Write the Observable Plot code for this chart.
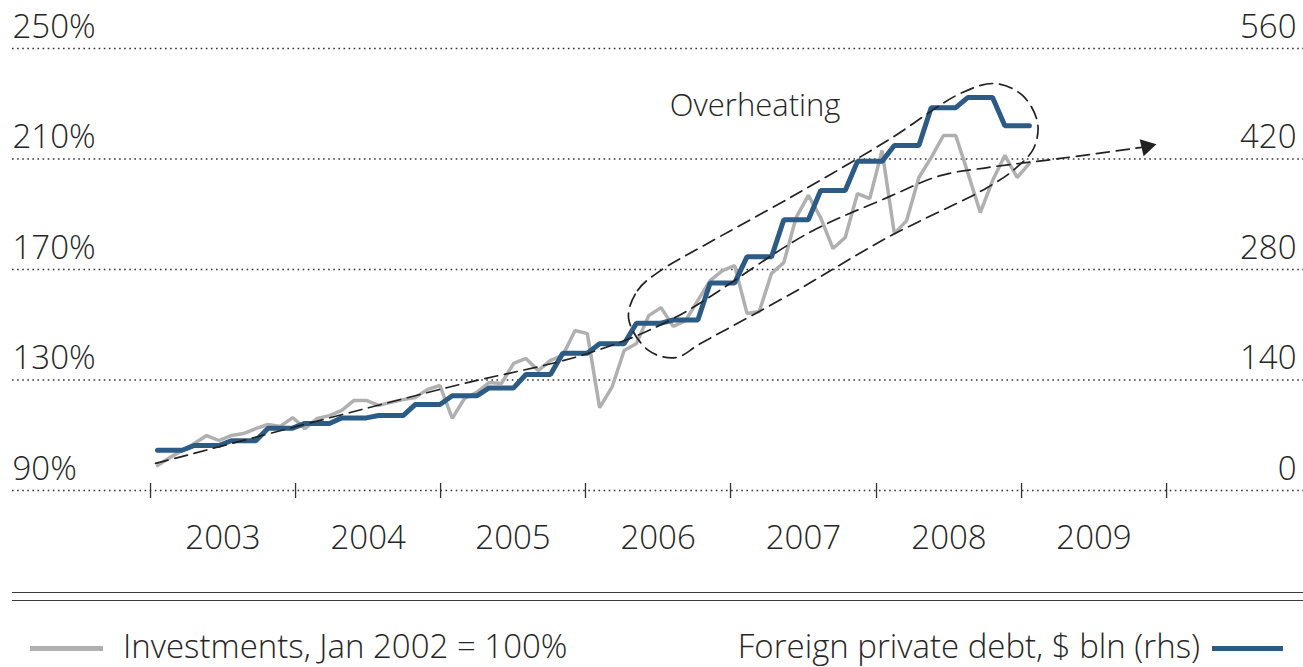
<!DOCTYPE html>
<html><head><meta charset="utf-8">
<script src="https://cdn.jsdelivr.net/npm/d3@7"></script>
<script src="https://cdn.jsdelivr.net/npm/@observablehq/plot@0.6"></script>
<style>
body{margin:0;background:#fff;font-family:"Open Sans",sans-serif;color:#262626;}
#wrap{position:relative;width:1303px;height:667px;overflow:hidden;}
#chart svg{display:block;overflow:visible;}
.dbl{position:absolute;left:12px;right:0;top:592px;height:7px;border-top:1.5px solid #3a3a3a;border-bottom:1.5px solid #3a3a3a;}
.leg{position:absolute;top:626px;font-size:33px;font-weight:300;line-height:40px;white-space:nowrap;color:#262626;}
.sw{position:absolute;height:5px;}
</style></head>
<body>
<div id="wrap">
  <div id="chart"></div>
  <div class="dbl"></div>
  <div class="sw" style="left:30px;width:73px;top:646px;background:#b0b0b0"></div>
  <div class="leg" style="left:123px">Investments, Jan 2002 = 100%</div>
  <div class="leg" style="right:103px">Foreign private debt, $ bln (rhs)</div>
  <div class="sw" style="left:1212px;width:71px;top:646px;background:#2c5b85"></div>
</div>
<script>
// Monthly observations, Jan 2003 .. Dec 2008 (index 0 = Jan 2003)
const months = d3.utcMonths(new Date(Date.UTC(2003, 0, 1)), new Date(Date.UTC(2009, 0, 1)));

// Investments, Jan 2002 = 100% (left axis)
const investments = [
  99.0, 101.9, 104.5, 107.0, 109.9, 108.1, 109.9, 110.6, 112.4, 113.9, 113.2, 116.4,
  112.4, 116.1, 117.1, 119.0, 122.6, 122.6, 120.8, 121.9, 122.9, 123.7, 126.6, 128.0,
  116.1, 123.3, 125.5, 129.1, 128.7, 136.0, 137.8, 133.4, 137.1, 138.9, 147.9, 146.8,
  120.0, 127.3, 140.7, 143.2, 153.3, 156.2, 149.4, 151.5, 158.8, 166.0, 169.6, 171.4,
  154.1, 154.8, 168.6, 172.5, 188.8, 196.8, 188.8, 177.6, 181.6, 197.5, 195.7, 213.1,
  183.0, 187.7, 203.3, 210.5, 218.5, 218.5, 204.8, 190.6, 202.2, 211.3, 203.3, 208.4
];

// Foreign private debt, $ bln (right axis) - quarterly levels shown monthly
const debt = [
  51, 51, 51, 57, 57, 57, 63, 63, 63, 79, 79, 79,
  85, 85, 85, 92, 92, 92, 95, 95, 95, 109, 109, 109,
  120, 120, 120, 130, 130, 130, 147, 147, 147, 174, 174, 174,
  186, 186, 186, 212, 212, 212, 216, 216, 216, 263, 263, 263,
  296, 296, 296, 343, 343, 343, 380, 380, 380, 417, 417, 417,
  437, 437, 437, 485, 485, 485, 498, 498, 498, 462, 462, 462
];

// Axis ticks
const leftTicks = [90, 130, 170, 210, 250];
const rhsTicks = [0, 140, 280, 420, 560];
const rhsPerPct = 3.5; // 560 bln spans 160 percentage points
const yearLabels = ["2003", "2004", "2005", "2006", "2007", "2008", "2009"];
// year boundary ticks and label centres as drawn (in month-index units)
const yearTicks = [-0.57, 11.24, 23.05, 34.85, 46.66, 58.55, 70.36, 82.17];
const yearMid = [5.33, 17.15, 28.95, 40.76, 52.6, 64.45, 76.26];

// Annotations (month index, % on left axis)
const trendX = [-0.16, 23.62, 35.02, 42.02, 52.93, 59.45, 63.76, 67.59, 73.53, 80.13];
const trendY = [99.8, 127.3, 139.6, 152.3, 183.0, 196.1, 204.0, 206.9, 210.2, 214.2];
const arrowHead = {x: 80.54, y: 214.5};
const ovalX = [38.36, 39.09, 40.96, 44.22, 51.55, 59.45, 65.55, 68.24, 70.44, 71.66, 71.34, 69.87, 67.59, 59.45, 51.79, 44.22, 42.18, 39.98];
const ovalY = [152.3, 162.4, 169.6, 178.0, 196.1, 216.7, 234.1, 237.3, 233.0, 223.2, 213.8, 206.6, 199.7, 181.6, 161.7, 143.2, 138.1, 140.7];
const overheat = {x: 41.72, y: 225.7, text: "Overheating"};

const rows = months.map((m, i) => ({i, date: m, inv: investments[i], debt: debt[i]}));
const trend = trendX.map((x, i) => ({x, y: trendY[i]}));
const oval = ovalX.map((x, i) => ({x, y: ovalY[i]}));

const ink = "#262626";
const chart = Plot.plot({
  width: 1303,
  height: 585,
  marginLeft: 12,
  marginRight: 0,
  marginTop: 48,
  marginBottom: 95,
  style: {fontFamily: "'Open Sans', sans-serif", fontSize: "33px", fontWeight: 300, color: ink, background: "transparent", overflow: "visible"},
  x: {domain: [-11.81, 93.32], axis: null},
  y: {domain: [90, 250], axis: null},
  marks: [
    Plot.gridY(leftTicks, {stroke: "#333", strokeOpacity: 1, strokeWidth: 1.4, strokeDasharray: "1.6,3.5"}),
    Plot.axisY(leftTicks, {anchor: "left", tickSize: 0, tickPadding: 0, textAnchor: "start", lineAnchor: "bottom", dy: -11, tickFormat: d => d + "%", fontSize: 33, fill: ink}),
    Plot.axisY(rhsTicks.map(t => 90 + t / rhsPerPct), {anchor: "right", tickSize: 0, tickPadding: 0, textAnchor: "end", lineAnchor: "bottom", dx: -7, dy: -11, tickFormat: d => String(Math.round((d - 90) * rhsPerPct)), fontSize: 33, fill: ink}),
    Plot.axisX(yearTicks, {anchor: "bottom", tickSize: 15, dy: -7, tickFormat: () => "", stroke: "#333", strokeWidth: 1.3}),
    Plot.axisX(yearMid, {anchor: "bottom", tickSize: 0, tickPadding: 35, tickFormat: d => yearLabels[yearMid.indexOf(d)], fontSize: 33, fill: ink}),
    Plot.line(rows, {x: "i", y: "inv", stroke: "#b0b0b0", strokeWidth: 3.5, strokeLinejoin: "miter"}),
    Plot.line(rows, {x: "i", y: d => 90 + d.debt / rhsPerPct, stroke: "#2c5b85", strokeWidth: 5, strokeLinejoin: "miter"}),
    Plot.line(trend, {x: "x", y: "y", curve: "catmull-rom", stroke: "#222", strokeWidth: 1.7, strokeDasharray: "13,7"}),
    Plot.line(oval, {x: "x", y: "y", curve: "catmull-rom-closed", stroke: "#222", strokeWidth: 1.7, strokeDasharray: "13,7"}),
    Plot.dot([arrowHead], {x: "x", y: "y", symbol: "triangle", r: 6.5, fill: "#222", stroke: "none", rotate: 77}),
    Plot.text([overheat], {x: "x", y: "y", text: "text", textAnchor: "start", lineAnchor: "bottom", fontSize: 31, fill: ink})
  ]
});
document.getElementById("chart").appendChild(chart);
</script>
</body></html>
